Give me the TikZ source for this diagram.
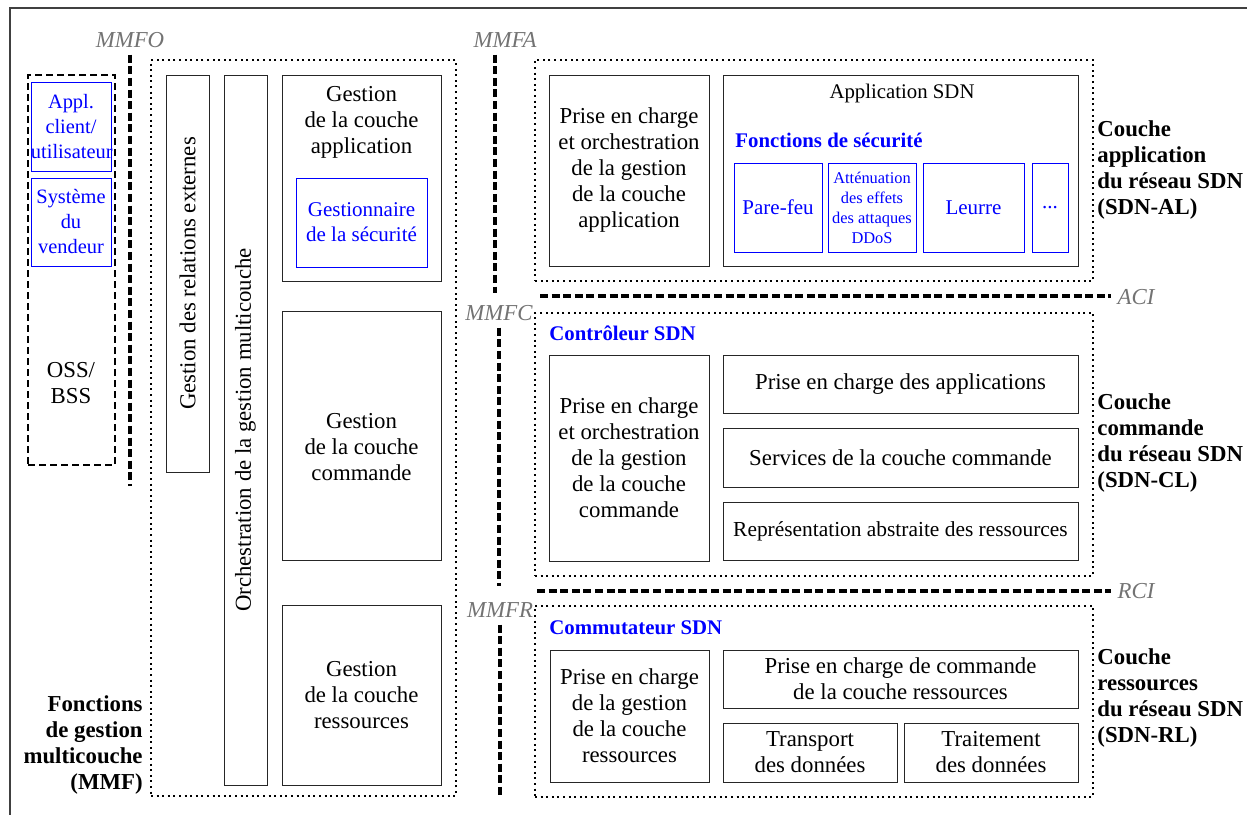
\documentclass[tikz,border=0pt]{standalone}
\usepackage{fontspec}
\setmainfont{Liberation Serif}
\newcommand{\fnorm}{\fontsize{11.4}{13}\selectfont}
\newcommand{\fsmall}{\fontsize{10.5}{12.5}\selectfont}
\newcommand{\ftiny}{\fontsize{8.2}{10}\selectfont}
\tikzset{
  box/.style={draw=black!85,line width=.5pt,inner sep=0pt,align=center,font=\fnorm},
  secbox/.style={draw=blue,line width=.5pt,inner sep=0pt,align=center,text=blue,font=\fsmall},
  layer/.style={draw=black,line width=.75pt,dash pattern=on 1pt off 1.8pt,inner sep=0pt},
  iface/.style={line width=2pt,dash pattern=on 4pt off 1.8pt},
  refpt/.style={text=black!55,font=\fnorm\itshape},
  layname/.style={font=\fnorm\bfseries,align=left,anchor=west,inner sep=0pt},
  title/.style={font=\fontsize{10.4}{12}\selectfont\bfseries,text=blue,anchor=west,inner sep=0pt},
  txt/.style={font=\fnorm,align=center,inner sep=0pt}
}
\begin{document}
\begin{tikzpicture}[x=.5pt,y=-.5pt]
  \useasboundingbox (0,0) rectangle (1247,814);
  \draw[black!75,line width=.75pt] (10,820) -- (10,8) -- (1250,8);
  % operations side
  \node[draw,line width=.75pt,dash pattern=on 3.5pt off 2pt,minimum width=43.5pt,minimum height=195pt] (oss) at (71.5,270) {};
  \node[secbox,minimum width=40pt,minimum height=44.5pt,text width=40pt,font=\fontsize{10.2}{12.5}\selectfont] (appl) at (71,126.5) {Appl.\\client/\\utilisateur};
  \node[secbox,minimum width=40pt,minimum height=44pt,text width=40pt,font=\fontsize{10.2}{12.5}\selectfont] (vend) at (71,222) {Système\\du\\vendeur};
  \node[txt] (osstxt) at (71,383) {OSS/\\BSS};
  % multilayer management
  \node[layer,minimum width=152.5pt,minimum height=368pt] (mmf) at (303.5,428) {};
  \node[box,rotate=90,minimum width=198.5pt,minimum height=21.5pt] (ext) at (187.5,273.5) {Gestion des relations externes};
  \node[box,rotate=90,minimum width=355pt,minimum height=21.5pt] (orch) at (245.5,430) {Orchestration de la gestion multicouche};
  \node[box,minimum width=79.5pt,minimum height=103pt] (gapp) at (361.5,178) {};
  \node[txt] (gapptxt) at (361.5,122) {Gestion\\de la couche\\application};
  \node[secbox,minimum width=65.5pt,minimum height=44.5pt] (gsec) at (361.5,222.5) {Gestionnaire\\de la sécurité};
  \node[box,minimum width=79.5pt,minimum height=124.5pt] (gcmd) at (361.5,435.5) {};
  \node[txt] (gcmdtxt) at (361.5,447) {Gestion\\de la couche\\commande};
  \node[box,minimum width=79.5pt,minimum height=90pt] (gres) at (361.5,695) {Gestion\\de la couche\\ressources};
  \node[layname,align=right,anchor=east] (mmflab) at (143,745) {Fonctions\\de gestion\\multicouche\\(MMF)};
  % reference points
  \node[refpt] (mmfo) at (130,40) {MMFO};
  \node[refpt] (mmfa) at (505,40) {MMFA};
  \node[refpt] (mmfc) at (499,313) {MMFC};
  \node[refpt] (mmfr) at (500,610) {MMFR};
  \node[refpt] (aci) at (1136,297) {ACI};
  \node[refpt] (rci) at (1136,591) {RCI};
  \coordinate (aci-w) at (540,296); \coordinate (rci-w) at (537,591);
  \draw[iface] (mmfo.south) -- ++(0,431);
  \draw[iface] ([xshift=-5pt]mmfa.south) -- ++(0,238);
  \draw[iface] (mmfc.south) -- ++(0,258);
  \draw[iface] (mmfr.south) -- ++(0,172);
  \draw[iface] (aci-w) -- (aci.west |- aci-w);
  \draw[iface] (rci-w) -- (rci.west |- rci-w);
  % application layer
  \node[layer,minimum width=279pt,minimum height=110.5pt] (al) at (814,170.5) {};
  \node[box,minimum width=80pt,minimum height=95.5pt] (alsup) at (629,170.5) {Prise en charge\\et orchestration\\de la gestion\\de la couche\\application};
  \node[box,minimum width=177.5pt,minimum height=95.5pt] (app) at (900.5,170.5) {};
  \node[txt,font=\fontsize{10.4}{12}\selectfont] (apptxt) at (902,93) {Application SDN};
  \node[title] (sec) at (735,140) {Fonctions de sécurité};
  \node[secbox,minimum width=44pt,minimum height=44.5pt] (pf) at (778,207.5) {Pare-feu};
  \node[secbox,minimum width=44pt,minimum height=44.5pt,font=\ftiny] (ddos) at (872,207.5) {Atténuation\\des effets\\des attaques\\DDoS};
  \node[secbox,minimum width=50.5pt,minimum height=44.5pt] (leurre) at (973.5,207.5) {Leurre};
  \node[secbox,minimum width=18pt,minimum height=44.5pt] (etc) at (1050,207.5) {...};
  \node[layname] (allab) at (1097,170) {Couche\\application\\du réseau SDN\\(SDN-AL)};
  % control layer
  \node[layer,minimum width=279pt,minimum height=131.5pt] (cl) at (814,444.5) {};
  \node[title] (ctrl) at (549,333) {Contrôleur SDN};
  \node[box,minimum width=80pt,minimum height=103pt] (clsup) at (629,458) {Prise en charge\\et orchestration\\de la gestion\\de la couche\\commande};
  \node[box,minimum width=177.5pt,minimum height=29pt] (capp) at (900.5,384) {Prise en charge des applications};
  \node[box,minimum width=177.5pt,minimum height=29.5pt] (csvc) at (900.5,457.5) {Services de la couche commande};
  \node[box,minimum width=177.5pt,minimum height=29pt,font=\fontsize{10.7}{13}\selectfont] (cres) at (900.5,531) {Représentation abstraite des ressources};
  \node[layname] (cllab) at (1097,443) {Couche\\commande\\du réseau SDN\\(SDN-CL)};
  % resource layer
  \node[layer,minimum width=279pt,minimum height=95.5pt] (rl) at (814,701.5) {};
  \node[title] (sw) at (549,628) {Commutateur SDN};
  \node[box,minimum width=79.5pt,minimum height=66pt] (rlsup) at (629.5,716) {Prise en charge\\de la gestion\\de la couche\\ressources};
  \node[box,minimum width=177.5pt,minimum height=29pt] (rcmd) at (900.5,679) {Prise en charge de commande\\de la couche ressources};
  \node[box,minimum width=87pt,minimum height=29.5pt] (trans) at (810,752.5) {Transport\\des données};
  \node[box,minimum width=87pt,minimum height=29.5pt] (trait) at (991,752.5) {Traitement\\des données};
  \node[layname] (rllab) at (1097,698) {Couche\\ressources\\du réseau SDN\\(SDN-RL)};
\end{tikzpicture}
\end{document}
